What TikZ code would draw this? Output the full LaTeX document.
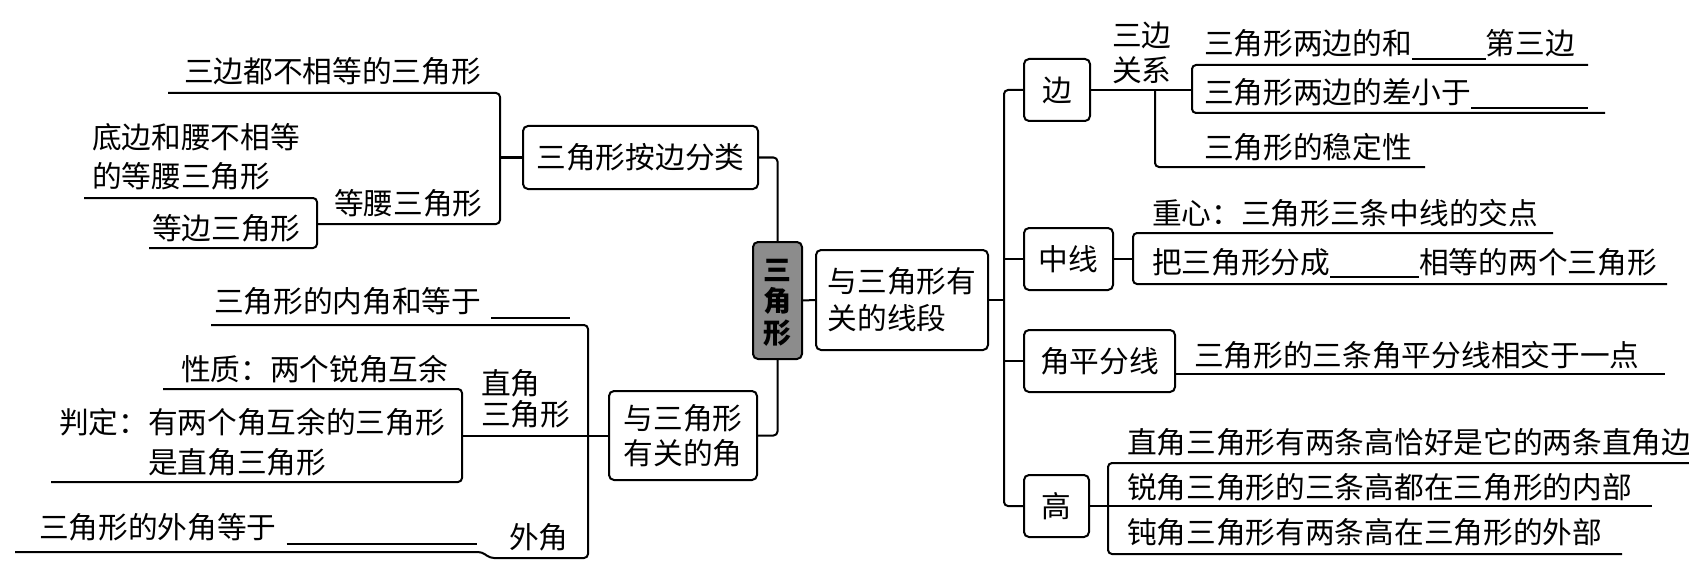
\documentclass[tikz,border=0pt]{standalone}
\usepackage{fontspec}
\newfontfamily\cjk{Noto Sans CJK SC}
\newcommand{\cs}{\rule[-3.6pt]{0pt}{29.7pt}}
\newcommand{\fb}[2]{\rule[#2]{#1}{1.6pt}}
\tikzset{
  base/.style={font=\cjk\fontsize{29.7}{36}\selectfont, inner sep=0pt, outer sep=0pt},
  txt/.style={base, anchor=west, text height=26.1pt, text depth=3.6pt},
  mtxt/.style={base, anchor=west, align=left},
  box/.style={base, draw, rounded corners=5pt, align=center},
  conn/.style={rounded corners=4pt},
}
\begin{document}
\begin{tikzpicture}[x=1pt, y=-1pt, line width=2pt]
\useasboundingbox (0,0) rectangle (1689,575);

% ---------- boxes ----------
\node[box, minimum width=235pt, minimum height=63pt] (B1) at (640.5,157.5) {\cs 三角形按边分类};
\node[box, minimum width=49pt, minimum height=117pt, fill=black!45,
      font=\cjk\bfseries\fontsize{28}{31.5}\selectfont] (C) at (777.5,300.5) {\cs 三\\\cs 角\\\cs 形};
\node[box, align=left, minimum width=172pt, minimum height=100pt,
      font=\cjk\fontsize{29.7}{37}\selectfont] (B3) at (902,300) {\cs 与三角形有\\\cs 关的线段};
\node[box, minimum width=148pt, minimum height=89pt,
      font=\cjk\fontsize{29.7}{35.5}\selectfont] (B2) at (683,435.5) {\cs 与三角形\\\cs 有关的角};
\node[box, minimum width=66pt, minimum height=62pt] (Bian) at (1057,90) {\cs 边};
\node[box, minimum width=89pt, minimum height=62pt] (Zx) at (1068.5,259) {\cs 中线};
\node[box, minimum width=151pt, minimum height=62pt] (Jp) at (1099.5,361) {\cs 角平分线};
\node[box, minimum width=65pt, minimum height=62pt] (Gao) at (1056.5,506) {\cs 高};

% ---------- left top texts ----------
\node[txt] (t1) at (184,71) {三边都不相等的三角形};
\node[mtxt, font=\cjk\fontsize{29.7}{39}\selectfont] (t2) at (92,156.5) {\cs 底边和腰不相等\\\cs 的等腰三角形};
\node[txt] (tdy) at (334,203) {等腰三角形};
\node[txt] (tdb) at (152,228) {等边三角形};

% ---------- left bottom texts ----------
\node[txt] (tnj) at (214,301) {三角形的内角和等于\hspace{10pt}\fb{79pt}{-6.5pt}};
\node[txt] (txz) at (181,369) {性质：两个锐角互余};
\node[mtxt, font=\cjk\fontsize{29.7}{40}\selectfont] (tpd) at (59,442) {\cs 判定：有两个角互余的三角形\\\hspace*{3em}\cs 是直角三角形};
\node[mtxt, font=\cjk\fontsize{29.7}{31}\selectfont] (tzj) at (481,399) {\cs 直角\\\cs 三角形};
\node[txt] (twj) at (39,527) {三角形的外角等于\hspace{10pt}\fb{190pt}{-6.5pt}};
\node[txt] (twl) at (509,537) {外角};

% ---------- right texts ----------
\node[mtxt, font=\cjk\fontsize{29.7}{35}\selectfont] (tsb) at (1112,52.5) {\cs 三边\\\cs 关系};
\node[txt] (the) at (1204,43) {三角形两边的和\fb{74pt}{-5.5pt}第三边};
\node[txt] (tch) at (1204,92) {三角形两边的差小于\fb{117pt}{-5.5pt}};
\node[txt] (twd) at (1204,147) {三角形的稳定性};
\node[txt] (tzx) at (1152,213) {重心：三角形三条中线的交点};
\node[txt] (tfc) at (1152,262) {把三角形分成\fb{89pt}{-4.5pt}相等的两个三角形};
\node[txt] (tjp) at (1194,355) {三角形的三条角平分线相交于一点};
\node[txt] (tg1) at (1127,442) {直角三角形有两条高恰好是它的两条直角边};
\node[txt] (tg2) at (1127,487) {锐角三角形的三条高都在三角形的内部};
\node[txt] (tg3) at (1127,532) {钝角三角形有两条高在三角形的外部};

% ---------- connectors: left top ----------
\draw[conn] (168,93) -- (500,93) -- (500,224) -- (317,224);
\draw[conn] (84,198) -- (317,198) -- (317,248) -- (149,248);
\draw (B1.west) -- (500,157.5);

% ---------- connectors: centre ----------
\draw[conn] (B1.east) -| (C.north);
\draw[conn] (C.south) |- (B2.east);
\draw (C.east) -- (B3.west);

% ---------- connectors: left bottom ----------
\draw[conn] (211,325) -- (588,325) -- (588,558) -- (490,558) -- (482,552) -- (15,552);
\draw (B2.west) -- (462,435.5);
\draw[conn] (163,389) -- (462,389) -- (462,482) -- (51,482);

% ---------- connectors: right ----------
\draw (B3.east) -- (1004,300);
\draw[conn] (Bian.west) -- (1004,90) -- (1004,506) -- (Gao.west);
\draw (Zx.west) -- (1004,259);
\draw (Jp.west) -- (1004,361);
\draw (Bian.east) -- (1192,90);
\draw[conn] (1155,90) -- (1155,167) -- (1425,167);
\draw[conn] (1588,65) -- (1192,65) -- (1192,113) -- (1605,113);
\draw (Zx.east) -- (1133,259);
\draw[conn] (1553,233) -- (1133,233) -- (1133,284) -- (1667,284);
\draw ([yshift=-13pt]Jp.east) -- (1665,374);
\draw (Gao.east) -- (1652,506);
\draw[conn] (1700,463) -- (1108,463) -- (1108,554) -- (1622,554);
\end{tikzpicture}
\end{document}
